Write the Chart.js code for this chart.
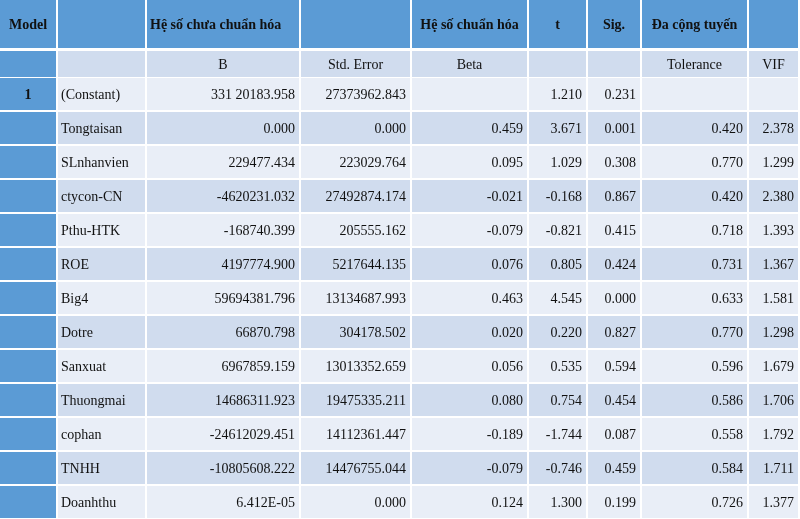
<!DOCTYPE html>
<html>
<head>
<meta charset="utf-8">
<script src="https://cdn.jsdelivr.net/npm/chart.js@4.4.1/dist/chart.umd.min.js"></script>
<style>
  html, body { margin: 0; padding: 0; background: #fff; }
  #wrap { width: 800px; height: 519px; }
</style>
</head>
<body>
<div id="wrap"><canvas id="tbl"></canvas></div>
<script>
// --- DATA ---
const headers = ['Model', '', 'Hệ số chưa chuẩn hóa', '', 'Hệ số chuẩn hóa', 't', 'Sig.', 'Đa cộng tuyến', ''];
const subHeaders = ['', '', 'B', 'Std. Error', 'Beta', '', '', 'Tolerance', 'VIF'];
const variables = ['(Constant)', 'Tongtaisan', 'SLnhanvien', 'ctycon-CN', 'Pthu-HTK', 'ROE', 'Big4', 'Dotre', 'Sanxuat', 'Thuongmai', 'cophan', 'TNHH', 'Doanhthu'];
const coefB = ['331 20183.958', '0.000', '229477.434', '-4620231.032', '-168740.399', '4197774.900', '59694381.796', '66870.798', '6967859.159', '14686311.923', '-24612029.451', '-10805608.222', '6.412E-05'];
const stdError = ['27373962.843', '0.000', '223029.764', '27492874.174', '205555.162', '5217644.135', '13134687.993', '304178.502', '13013352.659', '19475335.211', '14112361.447', '14476755.044', '0.000'];
const beta = ['', '0.459', '0.095', '-0.021', '-0.079', '0.076', '0.463', '0.020', '0.056', '0.080', '-0.189', '-0.079', '0.124'];
const tVals = ['1.210', '3.671', '1.029', '-0.168', '-0.821', '0.805', '4.545', '0.220', '0.535', '0.754', '-1.744', '-0.746', '1.300'];
const sigVals = ['0.231', '0.001', '0.308', '0.867', '0.415', '0.424', '0.000', '0.827', '0.594', '0.454', '0.087', '0.459', '0.199'];
const tolerance = ['', '0.420', '0.770', '0.420', '0.718', '0.731', '0.633', '0.770', '0.596', '0.586', '0.558', '0.584', '0.726'];
const vif = ['', '2.378', '1.299', '2.380', '1.393', '1.367', '1.581', '1.298', '1.679', '1.706', '1.792', '1.711', '1.377'];

// --- LAYOUT (đơn vị trục) ---
const colEdges = [0, 58, 147, 301, 412, 529, 588, 642, 749, 800];
const headerTop = 0, headerBottom = 48, subTop = 51, subBottom = 77, rowTop = 78, rowPitch = 34, gap = 2;
const BLUE = '#5b9bd5', DARK = '#d0dcee', LIGHT = '#e9eef7';

const tablePlugin = {
    id: 'tablePlugin',
    afterDraw(chart) {
        const c = chart.ctx, xs = chart.scales.x, ys = chart.scales.y;
        const X = v => xs.getPixelForValue(v), Y = v => ys.getPixelForValue(v);
        const cell = (ci, top, bottom, fill, merge) => {
            const x0 = X(colEdges[ci]), x1 = X(colEdges[ci + (merge || 1)]) - gap;
            c.fillStyle = fill;
            c.fillRect(x0, Y(top), x1 - x0, Y(bottom) - Y(top));
        };
        const text = (str, ci, top, bottom, align, font) => {
            if (!str) return;
            c.font = font;
            c.fillStyle = '#111';
            c.textBaseline = 'middle';
            const x0 = X(colEdges[ci]), x1 = X(colEdges[ci + 1]) - gap;
            let x;
            if (align === 'right') { c.textAlign = 'right'; x = x1 - 4; }
            else if (align === 'left') { c.textAlign = 'left'; x = x0 + 3; }
            else { c.textAlign = 'center'; x = (x0 + x1) / 2; }
            c.fillText(str, x, (Y(top) + Y(bottom)) / 2 + 1);
        };
        c.save();
        const hFont = 'bold 14px "Liberation Serif"';
        const dFont = '14px "Liberation Serif"';
        // header
        for (let i = 0; i < 9; i++) cell(i, headerTop, headerBottom, BLUE);
        headers.forEach((h, i) => {
            if (i === 2) text(h, 2, headerTop, headerBottom, 'left', hFont);
            else text(h, i, headerTop, headerBottom, 'center', hFont);
        });
        // subheader
        for (let i = 0; i < 9; i++) cell(i, subTop, subBottom, i === 0 ? BLUE : DARK);
        subHeaders.forEach((h, i) => text(h, i, subTop, subBottom, 'center', dFont));
        // rows
        const cols = [variables, coefB, stdError, beta, tVals, sigVals, tolerance, vif];
        variables.forEach((v, r) => {
            const top = rowTop + r * rowPitch, bottom = top + rowPitch - gap;
            const fill = r % 2 === 0 ? LIGHT : DARK;
            for (let i = 0; i < 9; i++) cell(i, top, bottom, i === 0 ? BLUE : fill);
            if (r === 0) text('1', 0, top, bottom, 'center', hFont);
            cols.forEach((arr, k) => text(arr[r], k + 1, top, bottom, k === 0 ? 'left' : 'right', dFont));
        });
        c.restore();
    }
};

new Chart(document.getElementById('tbl'), {
    type: 'scatter',
    data: { datasets: [{ data: [] }] },
    options: {
        responsive: true,
        maintainAspectRatio: false,
        animation: false,
        layout: { padding: 0 },
        plugins: { legend: { display: false }, tooltip: { enabled: false } },
        scales: {
            x: { type: 'linear', min: 0, max: 800, display: false },
            y: { type: 'linear', min: 0, max: 519, reverse: true, display: false }
        }
    },
    plugins: [tablePlugin]
});
</script>
</body>
</html>
